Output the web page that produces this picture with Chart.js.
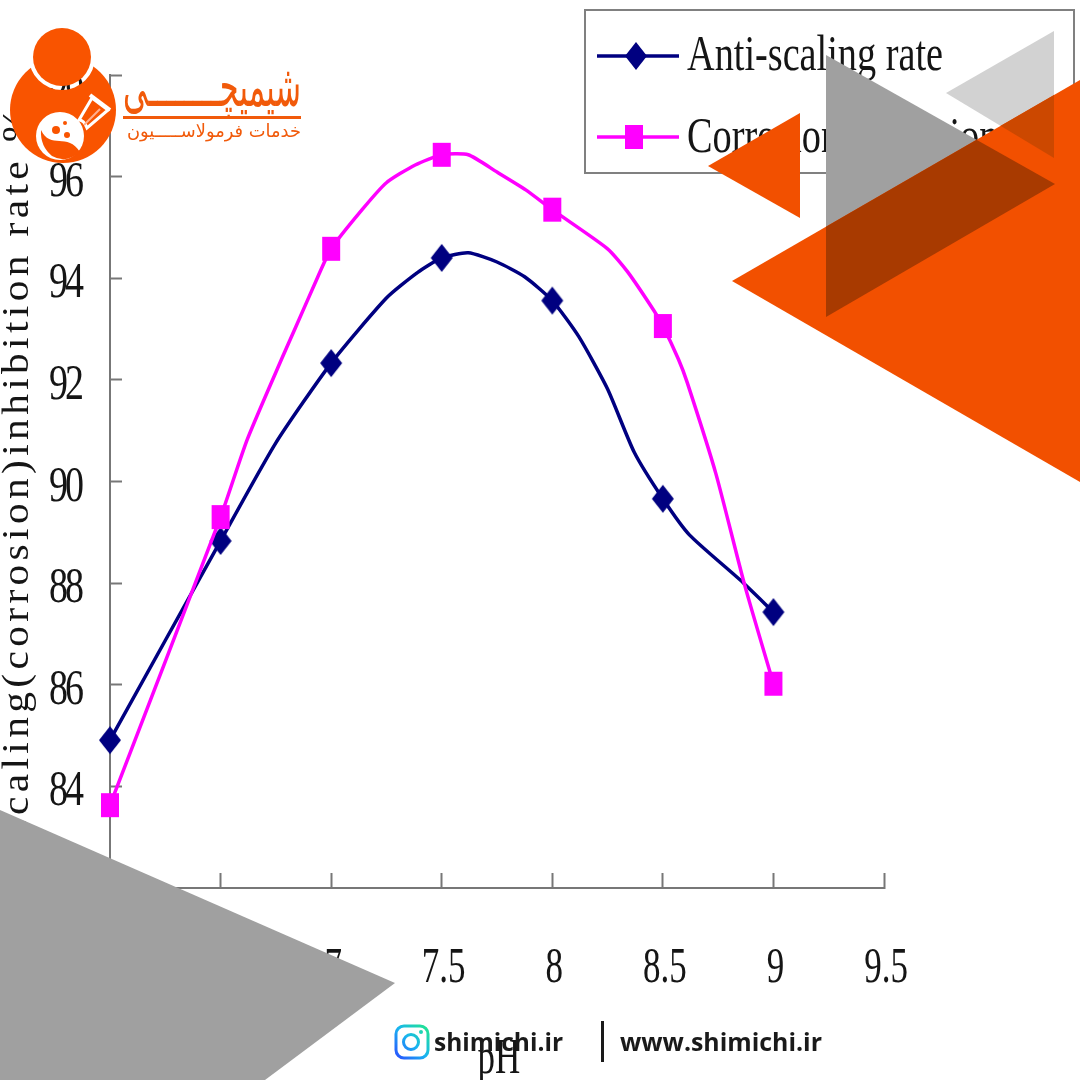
<!DOCTYPE html>
<html>
<head>
<meta charset="utf-8">
<style>
  html, body { margin: 0; padding: 0; background: #fff; }
  canvas { display: block; }
</style>
<script src="https://cdn.jsdelivr.net/npm/chart.js@4"></script>
</head>
<body>
<canvas id="chart" width="1080" height="1080"></canvas>
<script>
const measuredPh = [6, 6.5, 7, 7.5, 8, 8.5, 9];

const antiScalingPh = [6, 6.5, 6.75, 7, 7.25, 7.39, 7.5, 7.62, 7.75, 7.875, 8, 8.12, 8.25, 8.37, 8.5, 8.62, 8.85, 9];
const antiScalingRate = [84.91, 88.83, 90.76, 92.33, 93.61, 94.11, 94.40, 94.50, 94.32, 94.03, 93.56, 92.85, 91.82, 90.58, 89.66, 88.95, 88.06, 87.43];

const corrosionPh = [6, 6.5, 6.62, 6.78, 6.84, 6.94, 7, 7.14, 7.25, 7.38, 7.5, 7.62, 7.75, 7.88, 8, 8.25, 8.34, 8.46, 8.5, 8.57, 8.61, 8.74, 8.87, 9];
const corrosionRate = [83.63, 89.30, 90.82, 92.45, 93.04, 94.03, 94.58, 95.35, 95.88, 96.23, 96.43, 96.43, 96.09, 95.74, 95.35, 94.58, 94.13, 93.36, 93.06, 92.41, 91.95, 90.15, 87.96, 86.02];

const seriesNames = ['Anti-scaling rate', 'Corrosion inhibition rate'];
const xTitle = 'pH';
const yTitle = 'Anti-scaling(corrosion)inhibition rate %';

const NAVY = '#000080';
const MAGENTA = '#ff00ff';
const ORANGE = '#f25000';
const SERIF = '"Liberation Serif"';

function makeMarker(kind, color) {
    const c = document.createElement('canvas');
    c.width = 24;
    c.height = 30;
    const g = c.getContext('2d');
    g.fillStyle = color;
    if (kind === 'diamond') {
        g.beginPath();
        g.moveTo(12, 1);
        g.lineTo(23, 15);
        g.lineTo(12, 29);
        g.lineTo(1, 15);
        g.closePath();
        g.fill();
    } else {
        g.fillRect(3, 3, 18, 24);
    }
    return c;
}
const diamondMarker = makeMarker('diamond', NAVY);
const squareMarker = makeMarker('square', MAGENTA);

function pairs(xs, ys) {
    return xs.map((x, i) => ({ x: x, y: ys[i] }));
}

// the source picture is stretched vertically, so text gets a y scale
function tallText(ctx, text, x, y, sy, align, spacing) {
    ctx.save();
    ctx.translate(x, y);
    ctx.scale(1, sy);
    ctx.textAlign = align || 'center';
    ctx.textBaseline = 'alphabetic';
    ctx.letterSpacing = spacing || '0px';
    ctx.fillText(text, 0, 0);
    ctx.restore();
}

function fitText(ctx, text, x, y, width, sy) {
    ctx.save();
    ctx.translate(x, y);
    ctx.scale(width / ctx.measureText(text).width, sy);
    ctx.textAlign = 'left';
    ctx.textBaseline = 'alphabetic';
    ctx.fillText(text, 0, 0);
    ctx.restore();
}

function tri(ctx, a, b, c) {
    ctx.beginPath();
    ctx.moveTo(a[0], a[1]);
    ctx.lineTo(b[0], b[1]);
    ctx.lineTo(c[0], c[1]);
    ctx.closePath();
}

function drawAxisText(chart) {
    const ctx = chart.ctx;
    const xs = chart.scales.x;
    const ys = chart.scales.y;
    ctx.save();
    ctx.fillStyle = '#151515';
    ctx.font = '38px ' + SERIF;
    ys.ticks.forEach(t => {
        tallText(ctx, String(t.value), 81, ys.getPixelForValue(t.value) + 19, 1.36, 'right', '-3px');
    });
    ctx.font = '35px ' + SERIF;
    xs.ticks.forEach(t => {
        tallText(ctx, String(t.value), xs.getPixelForValue(t.value) + 2, 982, 1.45);
    });
    tallText(ctx, xTitle, 499, 1073, 1.45);

    // y title, the first letters sit under the grey corner
    ctx.font = '38px ' + SERIF;
    ctx.letterSpacing = '4px';
    const sx = 658 / ctx.measureText('caling(corrosion)inhibition rate').width;
    const lead = ctx.measureText('Anti-s').width * sx;
    ctx.translate(28, 815 + lead);
    ctx.rotate(-Math.PI / 2);
    ctx.scale(sx, 1);
    ctx.textAlign = 'left';
    ctx.textBaseline = 'alphabetic';
    ctx.fillText(yTitle, 0, 0);
    ctx.restore();
}

function drawLegendBox(chart) {
    const ctx = chart.ctx;
    ctx.save();
    ctx.strokeStyle = '#808080';
    ctx.lineWidth = 2;
    ctx.strokeRect(585, 10, 489, 163);

    ctx.lineWidth = 3.5;
    ctx.strokeStyle = NAVY;
    ctx.beginPath();
    ctx.moveTo(597, 56);
    ctx.lineTo(679, 56);
    ctx.stroke();
    ctx.strokeStyle = MAGENTA;
    ctx.beginPath();
    ctx.moveTo(597, 137);
    ctx.lineTo(679, 137);
    ctx.stroke();
    ctx.drawImage(diamondMarker, 624, 41);
    ctx.drawImage(squareMarker, 622, 122);

    ctx.fillStyle = '#151515';
    ctx.font = '34px ' + SERIF;
    fitText(ctx, seriesNames[0], 687, 70, 256, 1.5);
    fitText(ctx, seriesNames[1], 687, 152, 256 * ctx.measureText(seriesNames[1]).width / ctx.measureText(seriesNames[0]).width, 1.5);
    ctx.restore();
}

function drawTriangles(ctx) {
    const greyA = [826, 55], greyB = [1055, 184], greyC = [826, 317];
    const lightA = [946, 93], lightB = [1054, 31], lightC = [1054, 158];
    const bigA = [732, 281], bigB = [1080, 80], bigC = [1080, 482];
    ctx.save();
    ctx.fillStyle = '#a0a0a0';
    tri(ctx, greyA, greyB, greyC);
    ctx.fill();
    ctx.fillStyle = '#d2d2d2';
    tri(ctx, lightA, lightB, lightC);
    ctx.fill();

    ctx.fillStyle = ORANGE;
    tri(ctx, [708, 166], [800, 113], [800, 218]);
    ctx.fill();
    tri(ctx, bigA, bigB, bigC);
    ctx.fill();

    tri(ctx, bigA, bigB, bigC);
    ctx.clip();
    ctx.fillStyle = '#a83a00';
    tri(ctx, greyA, greyB, greyC);
    ctx.fill();
    ctx.fillStyle = '#cc4800';
    tri(ctx, lightA, lightB, lightC);
    ctx.fill();
    ctx.restore();

    // bottom left corner
    ctx.save();
    ctx.fillStyle = '#a0a0a0';
    ctx.beginPath();
    ctx.moveTo(0, 810);
    ctx.lineTo(395, 983);
    ctx.lineTo(265, 1080);
    ctx.lineTo(0, 1080);
    ctx.closePath();
    ctx.fill();
    ctx.restore();
}

function drawLogo(ctx) {
    const logoOrange = '#f95400';
    ctx.save();

    // big disc with a see-through ring around the head
    ctx.save();
    ctx.beginPath();
    ctx.rect(0, 0, 200, 200);
    ctx.arc(62, 57, 33, 0, Math.PI * 2);
    ctx.clip('evenodd');
    ctx.fillStyle = logoOrange;
    ctx.beginPath();
    ctx.arc(63, 110, 53, 0, Math.PI * 2);
    ctx.fill();
    ctx.restore();

    ctx.fillStyle = logoOrange;
    ctx.beginPath();
    ctx.arc(62, 57, 29, 0, Math.PI * 2);
    ctx.fill();

    // flask
    ctx.fillStyle = '#fff';
    ctx.beginPath();
    ctx.arc(60, 136, 24, 0, Math.PI * 2);
    ctx.fill();

    ctx.fillStyle = logoOrange;
    ctx.beginPath();
    ctx.moveTo(41, 130);
    ctx.bezierCurveTo(50, 150, 68, 132, 80, 152);
    ctx.quadraticCurveTo(66, 164, 52, 156);
    ctx.quadraticCurveTo(40, 146, 41, 130);
    ctx.closePath();
    ctx.fill();

    ctx.beginPath();
    ctx.moveTo(92, 98);
    ctx.lineTo(108, 110);
    ctx.lineTo(87, 128);
    ctx.quadraticCurveTo(84, 120, 79, 120);
    ctx.closePath();
    ctx.fillStyle = logoOrange;
    ctx.fill();
    ctx.strokeStyle = '#fff';
    ctx.lineWidth = 3;
    ctx.stroke();
    ctx.lineWidth = 4;
    ctx.beginPath();
    ctx.moveTo(90, 95);
    ctx.lineTo(110, 110);
    ctx.stroke();
    ctx.lineWidth = 2;
    ctx.strokeStyle = '#ffb090';
    ctx.beginPath();
    ctx.moveTo(100, 109);
    ctx.lineTo(84, 125);
    ctx.stroke();

    ctx.fillStyle = logoOrange;
    [[56, 130, 4], [67, 135, 3], [65, 123, 2]].forEach(d => {
        ctx.beginPath();
        ctx.arc(d[0], d[1], d[2], 0, Math.PI * 2);
        ctx.fill();
    });

    // brand text
    ctx.fillStyle = '#f15a0a';
    ctx.direction = 'rtl';
    ctx.textAlign = 'right';
    ctx.textBaseline = 'alphabetic';
    ctx.font = '58px "DejaVu Sans"';
    ctx.fillText('شیمیچــــــــی', 301, 106, 178);
    ctx.fillRect(123, 116, 178, 3);
    ctx.font = '18px "DejaVu Sans"';
    ctx.fillText('خدمات فرمولاســـــیون', 301, 137, 174);
    ctx.restore();
}

function drawFooter(ctx) {
    ctx.save();
    const grad = ctx.createLinearGradient(395, 1058, 428, 1025);
    grad.addColorStop(0, '#2a4dff');
    grad.addColorStop(0.5, '#19b5f0');
    grad.addColorStop(1, '#22e88a');
    ctx.strokeStyle = grad;
    ctx.fillStyle = grad;
    ctx.lineWidth = 3;
    ctx.beginPath();
    ctx.roundRect(396, 1026, 32, 32, 8);
    ctx.stroke();
    ctx.beginPath();
    ctx.arc(411, 1042, 7.5, 0, Math.PI * 2);
    ctx.stroke();
    ctx.beginPath();
    ctx.arc(421, 1032, 2, 0, Math.PI * 2);
    ctx.fill();

    ctx.fillStyle = '#1a1a1a';
    ctx.font = 'bold 25px "Open Sans"';
    fitText(ctx, 'shimichi.ir', 434, 1051, 129, 1);
    fitText(ctx, 'www.shimichi.ir', 620, 1051, 202, 1);
    ctx.fillRect(601, 1021, 3, 41);
    ctx.restore();
}

const pagePlugin = {
    id: 'page',
    beforeDraw(chart) {
        chart.ctx.save();
        chart.ctx.fillStyle = '#fff';
        chart.ctx.fillRect(0, 0, chart.width, chart.height);
        chart.ctx.restore();
    },
    afterDraw(chart) {
        drawAxisText(chart);
        drawLegendBox(chart);
        drawTriangles(chart.ctx);
        drawLogo(chart.ctx);
        drawFooter(chart.ctx);
    }
};

new Chart(document.getElementById('chart').getContext('2d'), {
    type: 'line',
    data: {
        datasets: [{
            label: seriesNames[1],
            data: pairs(corrosionPh, corrosionRate),
            borderColor: MAGENTA,
            backgroundColor: MAGENTA,
            borderWidth: 3.5,
            tension: 0.2,
            clip: false,
            pointStyle: squareMarker,
            pointRadius: c => measuredPh.includes(c.raw.x) ? 9 : 0
        }, {
            label: seriesNames[0],
            data: pairs(antiScalingPh, antiScalingRate),
            borderColor: NAVY,
            backgroundColor: NAVY,
            borderWidth: 3.5,
            tension: 0.2,
            clip: false,
            pointStyle: diamondMarker,
            pointRadius: c => measuredPh.includes(c.raw.x) ? 9 : 0
        }]
    },
    options: {
        responsive: false,
        animation: false,
        layout: { padding: { top: 75, right: 196, left: 0, bottom: 0 } },
        plugins: {
            legend: { display: false },
            tooltip: { enabled: false }
        },
        scales: {
            x: {
                type: 'linear',
                min: 6,
                max: 9.5,
                afterFit: s => { s.height = 192; },
                ticks: { stepSize: 0.5, display: false },
                border: { color: '#777', width: 2 },
                grid: { drawOnChartArea: false, color: '#777', tickLength: -15, tickWidth: 2 }
            },
            y: {
                min: 82,
                max: 98,
                afterFit: s => { s.width = 110; },
                ticks: { stepSize: 2, display: false },
                border: { color: '#777', width: 2 },
                grid: { drawOnChartArea: false, color: '#777', tickLength: -12, tickWidth: 2 }
            }
        }
    },
    plugins: [pagePlugin]
});
</script>
</body>
</html>
